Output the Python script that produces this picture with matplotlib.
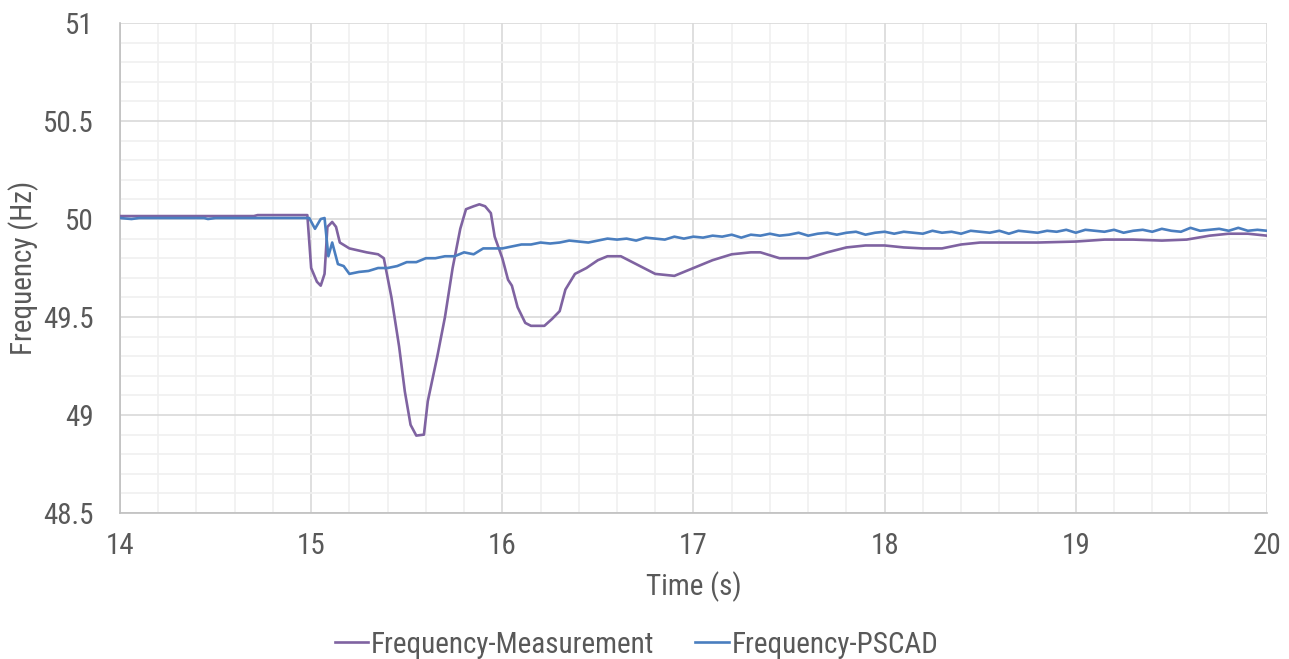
import numpy as np
import matplotlib
matplotlib.use("Agg")
import matplotlib.pyplot as plt
from matplotlib.ticker import MultipleLocator, FuncFormatter

# --- data ---
t_meas = [14.0, 14.7, 14.72, 14.98, 15.0, 15.03, 15.05, 15.07, 15.085, 15.11,
          15.13, 15.15, 15.2, 15.29, 15.35, 15.38, 15.42, 15.46, 15.49, 15.52,
          15.55, 15.59, 15.61, 15.66, 15.70, 15.74, 15.78, 15.81, 15.85, 15.88,
          15.91, 15.94, 15.96, 16.0, 16.03, 16.05, 16.08, 16.12, 16.15, 16.22,
          16.26, 16.30, 16.33, 16.38, 16.44, 16.5, 16.55, 16.62, 16.7, 16.8,
          16.9, 17.0, 17.1, 17.2, 17.3, 17.35, 17.45, 17.6, 17.7, 17.8,
          17.9, 18.0, 18.1, 18.2, 18.3, 18.4, 18.5, 18.6, 18.8, 19.0,
          19.15, 19.3, 19.45, 19.58, 19.7, 19.8, 19.9, 20.0]
f_meas = [50.015, 50.015, 50.02, 50.02, 49.75, 49.68, 49.66, 49.72, 49.96, 49.985,
          49.96, 49.88, 49.85, 49.83, 49.82, 49.80, 49.6, 49.35, 49.12, 48.95,
          48.895, 48.9, 49.07, 49.3, 49.5, 49.75, 49.95, 50.05, 50.065, 50.075,
          50.065, 50.03, 49.91, 49.80, 49.69, 49.66, 49.55, 49.47, 49.455, 49.455,
          49.49, 49.53, 49.64, 49.72, 49.75, 49.79, 49.81, 49.81, 49.77, 49.72,
          49.71, 49.75, 49.79, 49.82, 49.83, 49.83, 49.80, 49.80, 49.83, 49.855,
          49.865, 49.865, 49.855, 49.85, 49.85, 49.87, 49.88, 49.88, 49.88, 49.885,
          49.895, 49.895, 49.89, 49.895, 49.915, 49.925, 49.925, 49.915]

# PSCAD: transient part, then a steady part sampled every 0.05 s
t_pscad_a = [14.0, 14.06, 14.1, 14.44, 14.46, 14.5, 14.99, 15.02, 15.05, 15.07,
             15.09, 15.11, 15.14, 15.17]
f_pscad_a = [50.005, 50.0, 50.005, 50.005, 50.0, 50.005, 50.005, 49.95, 50.0, 50.005,
             49.81, 49.88, 49.77, 49.76]
t_pscad_b = np.round(np.linspace(15.2, 20.0, 97), 2)
f_pscad_b = [49.72, 49.73, 49.735, 49.75, 49.75, 49.76, 49.78, 49.78, 49.80, 49.80,
             49.81, 49.81, 49.83, 49.82, 49.85, 49.85, 49.85, 49.86, 49.87, 49.87,
             49.88, 49.875, 49.88, 49.89, 49.885, 49.88, 49.89, 49.90, 49.895, 49.90,
             49.89, 49.905, 49.90, 49.895, 49.91, 49.90, 49.91, 49.905, 49.915, 49.91,
             49.92, 49.905, 49.92, 49.915, 49.925, 49.915, 49.92, 49.93, 49.915, 49.925,
             49.93, 49.92, 49.93, 49.935, 49.92, 49.93, 49.935, 49.925, 49.935, 49.93,
             49.925, 49.94, 49.93, 49.935, 49.925, 49.94, 49.935, 49.93, 49.94, 49.925,
             49.94, 49.935, 49.93, 49.94, 49.935, 49.945, 49.93, 49.945, 49.94, 49.935,
             49.945, 49.93, 49.94, 49.945, 49.935, 49.95, 49.94, 49.935, 49.955, 49.94,
             49.945, 49.95, 49.94, 49.955, 49.94, 49.945, 49.94]
t_pscad = list(t_pscad_a) + list(t_pscad_b)
f_pscad = f_pscad_a + f_pscad_b

labels = ["Frequency-Measurement", "Frequency-PSCAD"]
colors = ["#7F63A1", "#4A7EBF"]

plt.rcParams['font.family'] = ['Roboto Condensed', 'Archivo Narrow', 'PT Sans Narrow',
                               'Liberation Sans', 'DejaVu Sans']
txt = "#595959"
fs = 21

fig = plt.figure(figsize=(12.89, 6.59), dpi=100)
ax = fig.add_axes([0.0931, 0.2215, 0.8898, 0.7436])

ax.plot(t_meas, f_meas, color=colors[0], lw=1.9, label=labels[0], zorder=3)
ax.plot(t_pscad, f_pscad, color=colors[1], lw=1.9, label=labels[1], zorder=4)

ax.set_xlim(14, 20); ax.set_ylim(48.5, 51)
ax.xaxis.set_major_locator(MultipleLocator(1))
ax.xaxis.set_minor_locator(MultipleLocator(0.2))
ax.yaxis.set_major_locator(MultipleLocator(0.5))
ax.yaxis.set_minor_locator(MultipleLocator(0.1))
ax.yaxis.set_major_formatter(FuncFormatter(lambda v, p: f"{v:g}"))
ax.grid(True, which="major", color="#D9D9D9", lw=1.2, zorder=1)
ax.grid(True, which="minor", color="#F0F0F0", lw=1.2, zorder=0)
ax.set_axisbelow(True)
ax.tick_params(which="both", length=0, labelsize=fs, colors=txt)
ax.tick_params(axis="y", pad=19)
ax.tick_params(axis="x", pad=14)
for s in ["top", "right"]:
    ax.spines[s].set_visible(False)
for s in ["left", "bottom"]:
    ax.spines[s].set_color("#BFBFBF")
    ax.spines[s].set_linewidth(1.2)

ax.set_xlabel("Time (s)", fontsize=fs, color=txt, labelpad=8)
ax.set_ylabel("Frequency (Hz)", fontsize=fs, color=txt, labelpad=3)

fig.legend(loc="center", bbox_to_anchor=(0.494, 0.022), ncol=2, frameon=False,
           fontsize=fs, labelcolor=txt, handlelength=1.15, handletextpad=0.1,
           columnspacing=1.4)

fig.savefig("out.png", dpi=100)
